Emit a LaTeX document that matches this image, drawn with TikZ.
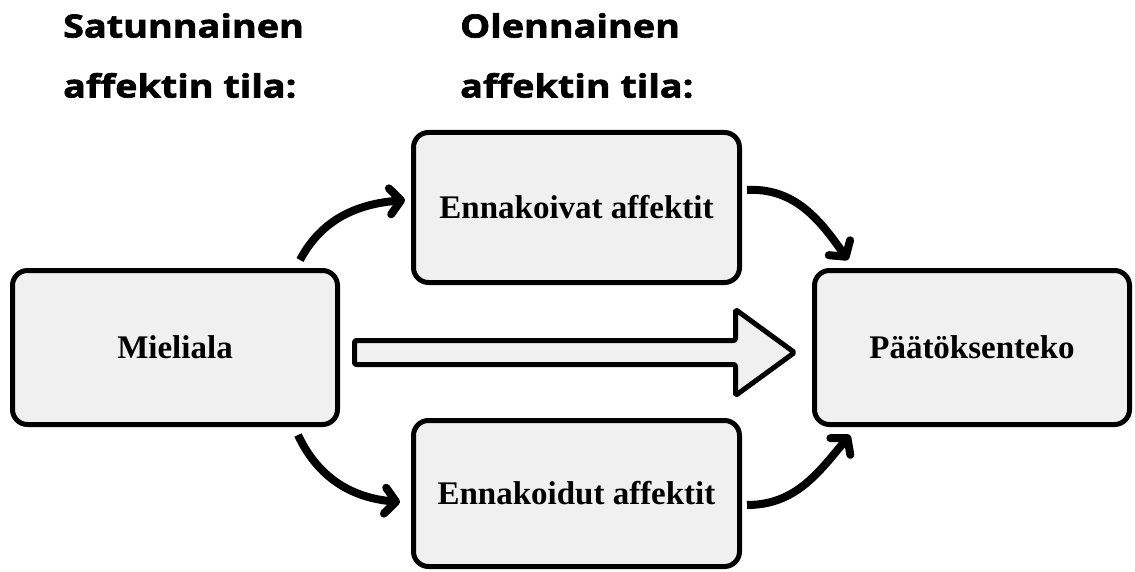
\documentclass[tikz,border=0pt]{standalone}
\usepackage{fontspec}
\setmainfont{Liberation Serif}
\newfontfamily\headfont[FakeStretch=1.18,FakeBold=2]{Open Sans}
\usetikzlibrary{arrows.meta}
\definecolor{boxgray}{RGB}{240,240,240}

\begin{document}
\begin{tikzpicture}[x=1pt,y=1pt,
  stagebox/.style={draw=black, line width=5pt, fill=boxgray,
    rounded corners=15pt, inner sep=0pt,
    font=\bfseries\fontsize{33}{38}\selectfont},
  heading/.style={inner sep=0pt, align=left,
    font=\headfont\bfseries\fontsize{32}{60}\selectfont},
  link/.style={line width=8pt, line cap=butt,
    -{Straight Barb[length=11pt,width=26pt,round]}},
  flowarrow/.style={draw=black, line width=5pt, fill=boxgray,
    line join=round, rounded corners=2pt}]
\useasboundingbox (0,0) rectangle (1135,-572);

% column headings
\node[heading, anchor=north west] (hstate) at (63,-13) {Satunnainen\\affektin tila:};
\node[heading, anchor=north west] (hinner) at (460,-13) {Olennainen\\affektin tila:};

% boxes
\node[stagebox, minimum width=325pt, minimum height=154pt] (mood) at (175,-347.5) {Mieliala};
\node[stagebox, minimum width=326pt, minimum height=150pt] (affA) at (576.5,-207.5) {Ennakoivat affektit};
\node[stagebox, minimum width=326pt, minimum height=146pt] (affB) at (576.5,-493.5) {Ennakoidut affektit};
\node[stagebox, minimum width=315pt, minimum height=154pt] (decide) at (972,-347.5) {Päätöksenteko};

% curved connectors
\draw[link] ([shift={(-40,8)}]mood.north east) to[out=62,in=185]
  ([shift={(-6,7.5)}]affA.west);
\draw[link] ([shift={(5,17.5)}]affA.east) to[out=3,in=125]
  ([shift={(36,8)}]decide.north west);
\draw[link] ([shift={(-42,-8)}]mood.south east) to[out=-65,in=175]
  ([shift={(-11,-8.5)}]affB.west);
\draw[link] ([shift={(5,-11.5)}]affB.east) to[out=0,in=-130]
  ([shift={(38,-8)}]decide.south west);

% broad arrow from mood to decision making
\coordinate (flowstart) at ([shift={(14.5,-5)}]mood.east);
\draw[flowarrow] (flowstart) -- ++(0,12) -- ++(381,0) -- ++(0,31)
  -- ++(59,-43) -- ++(-59,-43) -- ++(0,31) -- ++(-381,0) -- cycle;
\end{tikzpicture}
\end{document}
